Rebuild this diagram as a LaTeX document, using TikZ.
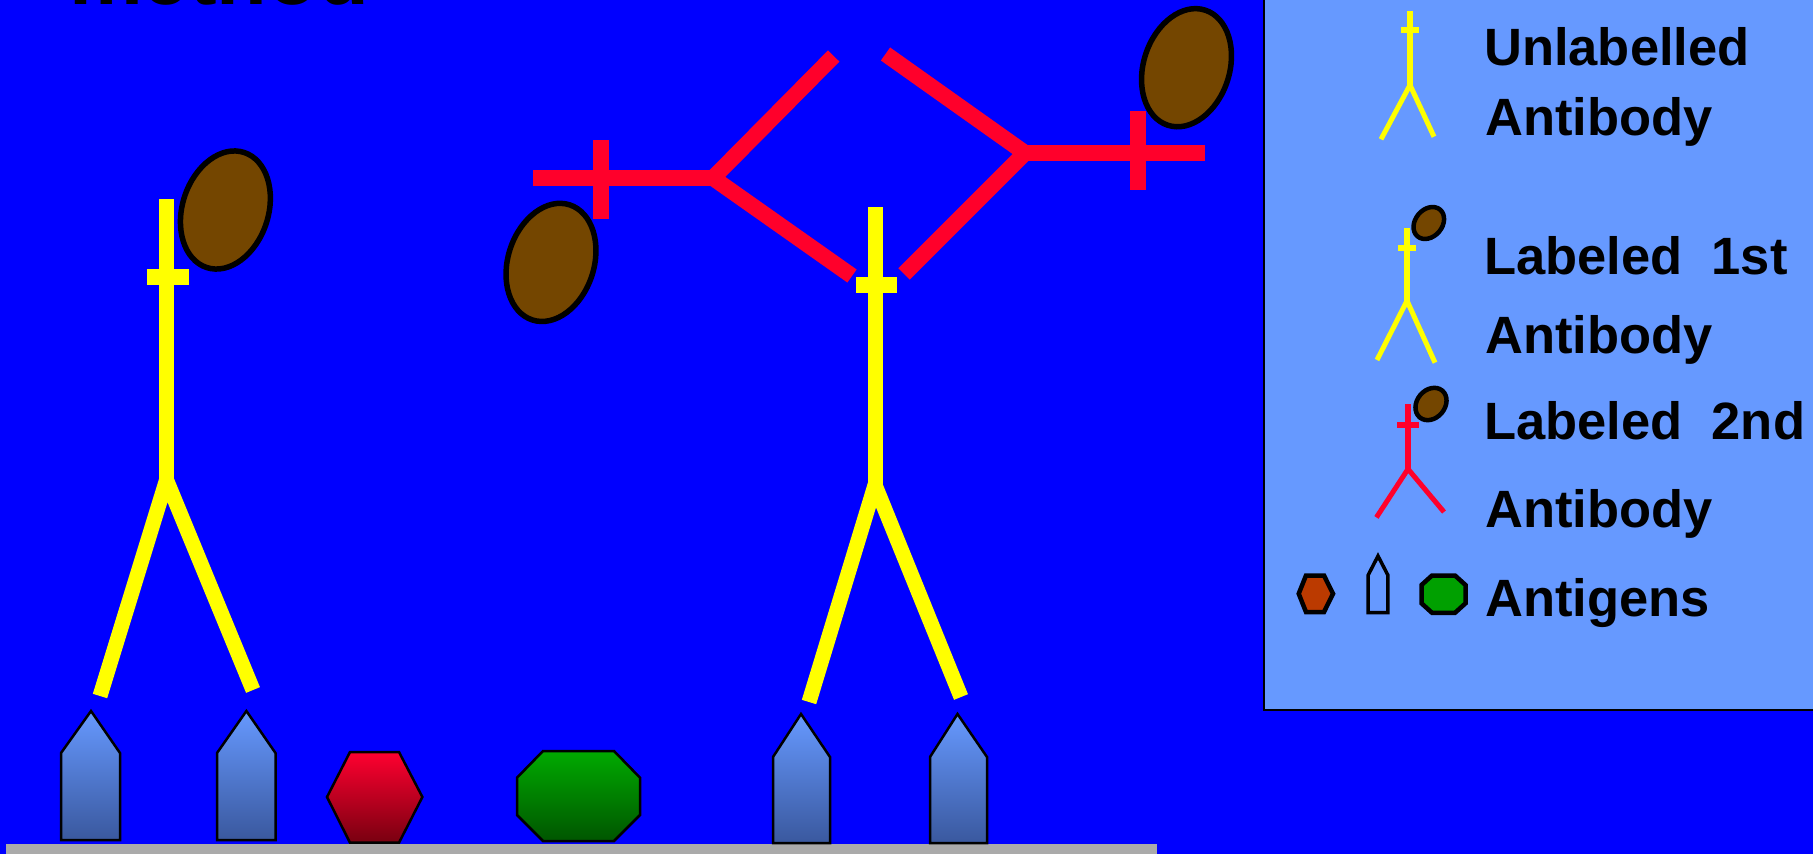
\documentclass[tikz,border=0pt]{standalone}
\usepackage{fontspec}
\setmainfont{Liberation Sans}
\definecolor{bgblue}{RGB}{0,0,255}
\definecolor{legendblue}{RGB}{102,153,255}
\definecolor{abyellow}{RGB}{255,255,0}
\definecolor{abred}{RGB}{255,0,43}
\definecolor{tagbrown}{RGB}{116,70,0}
\definecolor{basegray}{RGB}{170,170,170}
\definecolor{pentop}{RGB}{102,153,255}
\definecolor{penbot}{RGB}{58,88,158}
\definecolor{hextop}{RGB}{255,0,48}
\definecolor{hexbot}{RGB}{120,0,16}
\definecolor{octtop}{RGB}{0,170,0}
\definecolor{octbot}{RGB}{0,85,0}
\definecolor{hexorange}{RGB}{187,58,0}
\definecolor{octgreen}{RGB}{0,160,0}
\tikzset{
  ylw/.style={draw=abyellow, line width=#1},
  ylw/.default=15pt,
  rd/.style={draw=abred, line width=#1},
  rd/.default=16pt,
  tagball/.style={draw=black, fill=tagbrown, line width=#1},
  tagball/.default=5.5pt,
  antigen/.style={draw=black, line width=2.5pt, line join=miter},
  lbl/.style={font=\fontsize{52.5}{60}\selectfont\bfseries, anchor=base west,
              inner sep=0pt, text=black},
}
\begin{document}
\begin{tikzpicture}[x=1pt, y=-1pt, line join=miter]
\useasboundingbox (0,0) rectangle (1813,854);
% background
\fill[bgblue] (0,0) rectangle (1813,854);

% title line, mostly above the frame
\node[font=\fontsize{83}{90}\selectfont\bfseries, anchor=base west, inner sep=0pt]
  (title) at (69,4) {method};

% base plate
\fill[basegray] (6,844) rectangle (1157,860);

% ---------- antigens on the plate ----------
\path[antigen, top color=pentop, bottom color=penbot]
  (61,753) -- (91,711) -- (120,753) -- (120,840) -- (61,840) -- cycle;
\path[antigen, top color=pentop, bottom color=penbot]
  (217,753) -- (246.4,711) -- (275.5,753) -- (275.5,840) -- (217,840) -- cycle;
\path[antigen, top color=hextop, bottom color=hexbot]
  (350,752) -- (399,752) -- (422.4,797) -- (399,842.7) -- (350,842.7) -- (327,797) -- cycle;
\path[antigen, top color=octtop, bottom color=octbot]
  (543,751) -- (614,751) -- (640,777.7) -- (640,815) -- (614,841) -- (543,841)
  -- (517,815) -- (517,777.7) -- cycle;
\path[antigen, top color=pentop, bottom color=penbot]
  (773,757) -- (801,714) -- (830,757) -- (830,843) -- (773,843) -- cycle;
\path[antigen, top color=pentop, bottom color=penbot]
  (930,757) -- (957.5,714) -- (987,757) -- (987,843) -- (930,843) -- cycle;

% ---------- labelled first antibody (left) ----------
\draw[ylw] (166.5,199) -- (166.5,481);
\draw[ylw=16pt] (147,277) -- (189,277);
\draw[ylw] (100,696) -- (166.5,480) -- (253,690);
\draw[tagball, rotate around={-18:(225.4,210)}]
  (225.4,210) ellipse [x radius=43pt, y radius=60.5pt];

% ---------- first antibody bound to the plate (right) ----------
\draw[ylw] (875,207) -- (875,486);
\draw[ylw=16pt] (856,285) -- (897,285);
\draw[ylw] (809,702) -- (875,485) -- (961,697);

% ---------- labelled second antibodies ----------
\draw[rd] (533,178) -- (714,178);
\draw[rd] (601,140) -- (601,219);
\draw[rd] (833.7,56) -- (713,178) -- (852,276);
\draw[tagball, rotate around={-18:(551,262.4)}]
  (551,262.4) ellipse [x radius=43pt, y radius=60.5pt];

\draw[rd] (1024,153) -- (1205,153);
\draw[rd] (1137.6,111) -- (1137.6,190);
\draw[rd] (885.5,54) -- (1025,153) -- (904,274);
\draw[tagball, rotate around={-18:(1186.5,67.7)}]
  (1186.5,67.7) ellipse [x radius=43pt, y radius=60.5pt];

% ---------- legend ----------
\draw[line width=2.5pt, fill=legendblue] (1264,-5) rectangle (1825,710);

% unlabelled antibody
\draw[ylw=6pt] (1410,11) -- (1410,86);
\draw[ylw=6pt] (1401,30) -- (1419,30);
\draw[ylw=5pt] (1381,139.3) -- (1410,85) -- (1434,136.7);
\node[lbl] (lunl) at (1484,65.7) {Unlabelled};
\node[lbl] (lunla) at (1485,135.4) {Antibody};

% labelled first antibody
\draw[ylw=6pt] (1407,228) -- (1407,301.5);
\draw[ylw=6pt] (1398,248) -- (1415.6,248);
\draw[ylw=5pt] (1377,360) -- (1407,300.7) -- (1435,362.7);
\draw[tagball=4.5pt, rotate around={-40:(1428.8,223)}]
  (1428.8,223) ellipse [x radius=13.5pt, y radius=17.5pt];
\node[lbl] (lfirst) at (1484,274) {Labeled~~1st};
\node[lbl] (lfirsta) at (1485,353.5) {Antibody};

% labelled second antibody
\draw[rd=5.5pt] (1408,404) -- (1408,470);
\draw[rd=6pt] (1397,424.8) -- (1419,424.8);
\draw[rd=5pt] (1376.4,517.4) -- (1408,469) -- (1444,512);
\draw[tagball=4.5pt, rotate around={-40:(1431,404)}]
  (1431,404) ellipse [x radius=14pt, y radius=17.5pt];
\node[lbl] (lsecond) at (1484,439.4) {Labeled~~2nd};
\node[lbl] (lseconda) at (1485,527) {Antibody};

% antigen symbols
\draw[line width=4.5pt, fill=hexorange]
  (1306,575.5) -- (1324,575.5) -- (1333,593.7) -- (1324,612) -- (1306,612) -- (1298.7,593.7) -- cycle;
\draw[line width=3.5pt, fill=legendblue]
  (1368.2,575) -- (1378,556) -- (1387.8,575) -- (1387.8,612.5) -- (1368.2,612.5) -- cycle;
\draw[line width=4.5pt, fill=octgreen]
  (1432,575.5) -- (1455,575.5) -- (1465.5,585) -- (1465.5,603.3) -- (1455,612.8) -- (1432,612.8)
  -- (1421.5,603.3) -- (1421.5,585) -- cycle;
\node[lbl] (lantigens) at (1485,616) {Antigens};
\end{tikzpicture}
\end{document}
